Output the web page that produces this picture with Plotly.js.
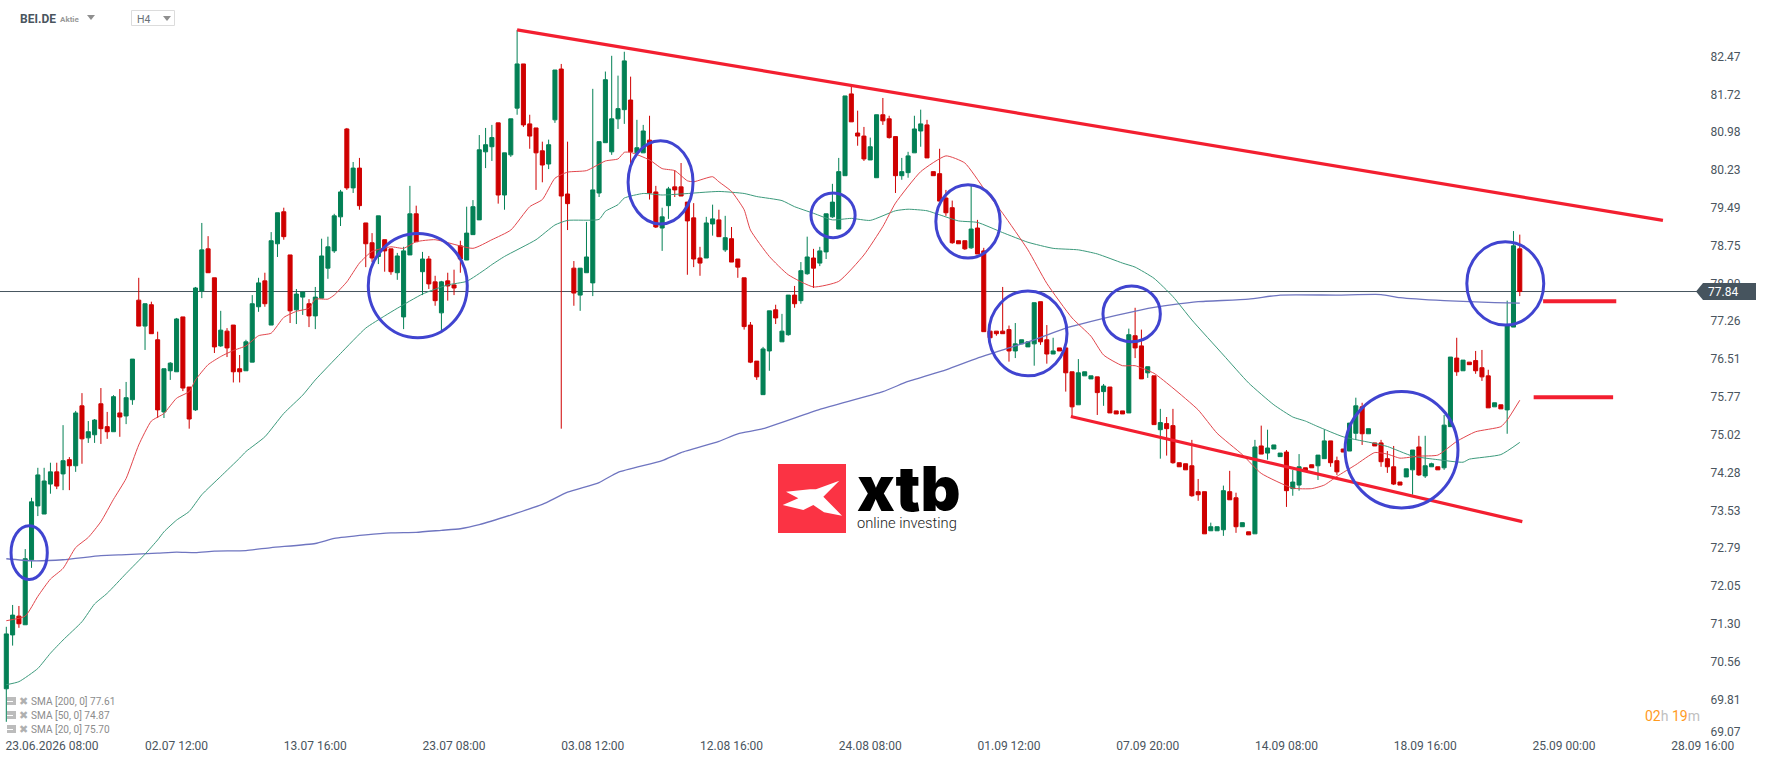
<!DOCTYPE html>
<html>
<head>
<meta charset="utf-8">
<script src="https://cdn.plot.ly/plotly-3.0.1.min.js"></script>
<style>
  html, body { margin: 0; padding: 0; background: #fff; overflow: hidden; }
</style>
</head>
<body>
<div id="chart" style="width:1768px;height:761px;"></div>
<script>
// H4 candles
var opens = [
  70.02,71.08,71.45,71.28,72.56,73.62,73.46,74.05,74.29,74.25,
  74.53,74.41,75.59,74.96,75.02,75.63,75.18,75.08,75.45,75.39,
  75.71,77.67,77.16,77.58,76.89,75.47,76.28,76.26,77.34,75.96,
  75.51,77.85,78.68,78.11,76.77,77.06,77.18,76.32,76.28,76.45,
  77.54,78.05,77.18,78.78,79.41,78.56,77.48,77.73,77.60,77.36,
  77.71,78.30,78.64,79.31,81.04,79.88,80.27,79.19,78.80,78.53,
  78.86,78.68,78.21,77.34,78.56,79.37,78.23,78.48,78.03,77.42,
  78.05,77.97,78.74,78.46,78.96,79.25,80.59,80.69,81.16,79.74,
  80.53,81.45,82.32,81.14,81.06,80.61,80.35,81.22,82.22,79.76,
  78.30,77.77,78.21,78.01,79.78,80.77,80.59,81.24,81.42,81.61,
  80.57,80.57,80.82,79.80,79.09,79.53,79.90,79.90,79.60,79.29,
  78.50,78.50,79.17,79.25,78.66,78.88,78.48,78.11,77.18,76.47,
  75.81,76.67,77.48,76.85,76.99,77.77,77.66,78.19,78.50,78.40,
  78.62,79.31,79.07,80.12,81.73,80.96,80.90,80.43,80.08,81.32,
  81.24,80.89,80.12,80.18,80.57,81.00,81.12,80.20,80.16,79.68,
  79.49,78.84,78.84,78.70,79.09,78.64,77.06,77.06,77.06,77.09,
  76.67,76.81,76.75,76.81,77.64,76.89,76.61,76.73,76.73,76.26,
  75.61,76.18,76.12,76.16,75.87,75.96,75.49,75.49,75.45,76.97,
  76.77,76.24,76.18,75.12,75.24,75.20,74.47,74.45,74.41,73.90,
  73.90,73.13,73.13,73.15,73.90,73.78,73.21,73.11,73.07,74.80,
  74.66,74.74,74.59,74.68,73.96,74.03,74.37,74.43,74.41,74.55,
  74.90,74.51,74.74,74.70,75.05,75.57,75.04,74.86,74.86,74.55,
  74.39,74.09,74.19,74.33,74.78,74.21,74.39,74.39,74.37,75.18,
  76.53,76.28,76.45,76.48,76.34,76.18,75.57,75.61,75.51,77.14,78.68
];
var highs = [
  71.24,71.67,71.65,72.77,73.78,74.37,74.37,74.47,74.47,75.21,
  74.58,75.49,75.84,75.29,75.33,75.94,75.47,75.80,75.92,76.06,
  76.51,78.11,77.60,77.64,77.05,76.32,76.45,77.32,77.34,75.96,
  77.93,79.19,78.93,78.11,77.46,77.12,77.18,76.59,76.89,77.77,
  78.11,78.21,79.01,79.39,79.49,78.56,77.89,77.83,77.69,77.93,
  78.88,78.92,79.37,79.84,81.06,80.39,80.47,79.19,78.99,79.33,
  78.86,78.68,78.60,78.72,79.92,79.53,78.62,78.54,78.15,78.05,
  78.21,78.27,78.84,79.51,79.64,80.92,81.06,81.12,81.16,80.57,
  81.24,82.99,82.32,81.32,81.06,80.79,80.83,82.20,82.32,80.79,
  78.44,78.30,79.21,81.83,80.79,82.17,82.48,82.09,82.56,82.07,
  81.22,81.12,81.30,79.92,79.49,79.90,80.23,80.37,79.60,79.58,
  78.72,79.31,79.55,79.45,79.33,79.11,78.48,78.11,77.24,76.47,
  76.75,77.46,77.58,77.40,77.77,77.95,78.42,78.92,78.68,78.72,
  79.37,79.96,80.47,81.69,81.89,81.40,81.08,80.87,81.32,81.65,
  81.30,80.89,80.47,80.59,81.30,81.42,81.22,80.20,80.65,79.84,
  79.63,78.84,78.84,79.94,79.25,78.70,77.06,77.06,77.93,77.17,
  77.22,76.89,76.85,77.62,77.64,77.18,76.93,76.73,76.73,76.26,
  76.51,76.26,76.18,76.16,76.02,75.96,75.49,75.49,77.11,77.52,
  77.09,76.36,76.18,75.53,75.37,75.53,74.47,74.45,74.92,74.15,
  73.90,73.29,73.21,74.02,74.31,73.88,73.29,73.11,74.92,75.20,
  75.12,74.82,74.66,74.72,74.33,74.64,74.37,74.43,74.62,75.12,
  74.90,74.59,74.74,75.25,75.75,75.65,75.14,74.86,74.92,74.70,
  74.80,74.09,74.35,74.72,75.00,75.00,74.47,74.39,75.41,76.55,
  76.93,76.49,76.45,76.67,76.69,76.30,75.65,75.61,77.66,79.03,78.96
];
var lows = [
  69.37,70.87,71.22,71.28,72.40,73.42,73.46,73.86,73.95,73.93,
  73.93,74.29,74.45,74.86,74.86,74.84,74.94,75.08,74.98,75.23,
  75.61,77.16,76.69,77.01,75.35,75.35,76.10,76.26,75.88,75.14,
  75.49,77.71,78.21,76.63,76.75,76.55,76.05,76.05,76.28,76.45,
  77.44,77.54,77.18,78.52,78.86,77.22,77.20,77.38,77.14,77.10,
  77.71,78.09,78.60,79.13,79.84,79.78,79.45,78.32,78.42,78.38,
  78.23,78.17,78.07,77.10,78.56,78.82,77.77,77.89,77.56,77.08,
  77.66,77.77,78.21,78.46,78.96,79.25,80.27,80.41,79.57,79.45,
  80.49,81.32,81.08,80.65,79.84,79.99,80.25,81.16,75.14,79.05,
  77.56,77.46,78.21,77.75,79.70,80.77,80.53,81.04,81.14,80.33,
  80.57,80.57,79.65,79.09,78.64,79.27,79.70,79.72,78.17,78.32,
  78.15,78.50,78.94,78.92,78.62,78.42,78.11,77.09,76.43,76.10,
  75.81,76.28,77.20,76.85,76.97,77.52,77.60,78.17,77.91,78.34,
  78.48,79.29,79.07,80.12,81.18,80.71,80.41,80.43,80.08,81.12,
  80.85,79.78,80.04,80.08,80.57,80.69,80.47,80.12,79.62,79.33,
  78.78,78.78,78.66,78.68,78.58,77.05,76.93,76.97,77.01,76.46,
  76.53,76.81,76.75,76.38,76.79,76.42,76.61,76.67,75.87,75.39,
  75.61,76.18,76.12,75.41,75.59,75.45,75.43,75.43,75.45,76.53,
  76.12,76.14,75.22,74.55,74.61,74.45,74.39,74.33,73.80,73.72,
  73.07,73.13,73.13,73.03,73.74,73.09,73.21,73.05,73.07,74.64,
  74.53,74.74,74.59,73.60,73.82,73.92,74.31,74.37,74.13,74.55,
  74.39,74.23,74.68,74.70,74.92,74.82,75.04,74.80,74.39,74.27,
  74.03,74.03,74.19,73.84,74.21,74.17,74.39,74.33,74.33,75.18,
  76.18,76.28,76.40,76.22,76.08,75.55,75.57,75.53,75.04,77.14,77.75
];
var closes = [
  71.10,71.47,71.30,72.58,73.70,74.23,74.11,74.29,74.01,74.51,
  74.41,75.45,74.94,75.08,75.31,75.14,75.08,75.77,75.37,75.75,
  76.51,77.16,77.60,77.01,75.51,76.32,76.43,77.30,75.94,75.33,
  77.91,78.66,78.21,76.75,77.08,76.73,76.26,76.26,76.85,77.60,
  78.01,77.60,78.84,79.39,78.92,77.46,77.79,77.83,77.36,77.73,
  78.54,78.72,79.33,79.80,79.88,80.27,79.53,78.78,78.50,79.33,
  78.64,78.23,78.54,78.64,79.37,78.82,78.48,77.99,77.66,78.03,
  77.95,77.91,78.48,78.99,79.51,80.63,80.73,80.87,79.74,80.57,
  81.24,82.32,81.12,80.90,80.57,80.33,80.73,82.20,79.72,79.57,
  77.81,78.30,78.52,79.84,80.79,82.01,81.24,81.44,82.38,80.59,
  80.67,81.00,79.78,79.11,79.31,79.86,79.84,79.72,79.23,78.48,
  78.40,79.19,79.27,78.92,78.90,78.42,78.32,77.15,76.45,76.16,
  76.71,77.46,77.32,77.06,77.77,77.60,78.25,78.52,78.30,78.64,
  79.37,79.60,80.20,81.69,81.18,80.90,80.45,80.69,81.32,81.20,
  80.87,80.12,80.20,80.51,81.04,81.14,80.47,80.12,79.62,79.39,
  78.80,78.78,78.68,79.07,78.58,77.05,76.93,77.01,77.01,76.67,
  76.81,76.89,76.85,77.62,76.85,76.61,76.67,76.67,76.24,75.57,
  76.24,76.26,76.18,75.85,75.98,75.45,75.43,75.43,76.99,76.73,
  76.12,76.36,75.22,75.26,75.14,74.47,74.39,74.33,73.82,73.84,
  73.07,73.21,73.21,73.92,73.74,73.21,73.29,73.05,74.78,74.64,
  74.76,74.82,74.66,73.92,74.09,74.39,74.31,74.37,74.62,74.90,
  74.47,74.29,74.68,75.25,75.59,75.04,75.14,74.80,74.49,74.39,
  74.05,74.03,74.35,74.72,74.23,74.41,74.45,74.33,75.21,76.55,
  76.26,76.49,76.40,76.28,76.16,75.55,75.65,75.53,77.16,78.74,77.84
];

// moving averages, sampled along the curves (candle number, price)
var sma20X = [0,3,5,7,9,11,13,15,17,19,21,23,25,27,29,30,32,34,36,38,40,42,44,46,48,49,51,52,54,56,58,61,63,65,68,
  74,77,80,83,85,87,89,92,95,97,98,99,102,104,106,108,109,112,113,115,117,118,121,124,128,132,136,139,141,145,149,
  152,155,158,162,165,169,172,174,177,179,182,185,189,192,196,199,204,207,209,211,214,217,219,221,224,227,230,233,237,238,240];
var sma20Y = [71.36,71.45,71.84,72.18,72.39,72.80,73.00,73.31,73.75,74.16,74.82,75.29,75.44,75.74,75.87,76.10,76.40,76.56,76.68,76.77,76.97,77.02,77.33,77.45,77.51,77.69,77.69,77.77,78.03,78.40,78.63,78.72,78.69,78.82,78.86,
  78.69,78.86,79.05,79.51,79.65,80.07,80.19,80.22,80.41,80.45,80.58,80.58,80.43,80.26,80.22,80.02,80.00,80.10,80.00,79.81,79.45,79.05,78.53,78.17,77.93,78.04,78.56,79.12,79.58,80.20,80.51,
  80.37,79.87,79.38,78.66,78.00,77.32,76.96,76.59,76.38,76.38,76.23,75.94,75.51,75.05,74.63,74.26,73.97,73.96,74.03,74.20,74.43,74.67,74.64,74.56,74.60,74.62,74.89,75.08,75.18,75.31,75.70];

var sma50X = [0,2,5,7,9,12,14,16,19,22,24,25,27,29,31,34,37,38,41,44,47,49,53,57,60,62,66,70,73,76,77,79,84,87,89,94,95,97,98,101,104,107,113,117,119,123,125,128,131,134,137,
  141,143,146,148,151,154,158,162,166,170,173,177,179,182,185,188,193,197,201,204,206,208,212,217,219,223,227,231,232,237,240];
var sma50Y = [70.10,70.16,70.42,70.72,70.98,71.34,71.69,71.90,72.29,72.67,72.95,73.11,73.34,73.51,73.84,74.20,74.56,74.69,74.98,75.44,75.80,76.10,76.62,77.12,77.36,77.51,77.79,77.97,78.04,78.28,78.37,78.53,78.86,79.15,79.24,79.26,79.42,79.55,79.68,79.77,79.74,79.76,79.81,79.77,79.71,79.63,79.51,79.38,79.25,79.28,79.24,
  79.43,79.46,79.43,79.35,79.23,79.20,79.00,78.81,78.69,78.66,78.58,78.40,78.32,78.10,77.74,77.28,76.59,76.04,75.61,75.37,75.29,75.18,74.98,74.85,74.79,74.60,74.53,74.48,74.54,74.63,74.87];

var sma200X = [0,4,9,15,19,24,27,30,33,38,42,49,52,57,61,65,69,72,75,80,85,89,94,97,104,107,113,116,120,129,139,143,149,154,159,163,168,176,180,185,189,197,202,211,218,221,228,232,236,240];
var sma200Y = [72.58,72.54,72.56,72.64,72.66,72.69,72.71,72.70,72.73,72.74,72.80,72.88,72.98,73.05,73.09,73.10,73.14,73.17,73.25,73.44,73.65,73.89,74.08,74.28,74.51,74.67,74.89,75.04,75.14,75.52,75.87,76.07,76.30,76.53,76.73,76.89,77.12,77.37,77.48,77.58,77.64,77.69,77.77,77.77,77.78,77.72,77.66,77.64,77.62,77.61];

// drawn trend lines and levels
var upperTrendX = [81, 262.7],  upperTrendY = [82.99, 79.24];
var lowerTrendX = [168.8, 240.4], lowerTrendY = [75.38, 73.31];
var levelHighX = [243.7, 255.3], levelHighY = [77.65, 77.65];
var levelLowX = [242.2, 254.8], levelLowY = [75.76, 75.76];

// hand drawn ellipses: left, right, top, bottom
var ringLeft = [0.75,57.4,98.6,127.6,147.4,155.8,173.9,212.3,231.6];
var ringRight = [6.5,73.1,108.9,134.6,157.6,168.2,183,230.2,243.8];
var ringTop = [73.23,78.98,80.81,79.78,79.94,77.85,77.95,75.87,78.82];
var ringBottom = [72.17,76.93,79.17,78.90,78.50,76.18,76.85,73.58,77.18];

var priceTicks = [82.47,81.72,80.98,80.23,79.49,78.75,78.00,77.26,76.51,75.77,75.02,74.28,73.53,72.79,72.05,71.30,70.56,69.81,69.18];
var priceLabels = ['82.47','81.72','80.98','80.23','79.49','78.75','78.00','77.26','76.51','75.77','75.02','74.28','73.53','72.79','72.05','71.30','70.56','69.81','69.07'];
var timeTicks = [7.25,27,49,71,93,115,137,159,181,203,225,247,269];
var timeLabels = ['23.06.2026 08:00','02.07 12:00','13.07 16:00','23.07 08:00','03.08 12:00','12.08 16:00','24.08 08:00','01.09 12:00','07.09 20:00','14.09 08:00','18.09 16:00','25.09 00:00','28.09 16:00'];
var lastPrice = 77.84;
var smaLabels = ['SMA [200, 0] 77.61','SMA [50, 0] 74.87','SMA [20, 0] 75.70'];

var plotW = 1705, plotH = 733;
var font = 'Roboto, sans-serif';
var textColor = '#4a555e';

// pixel position in the page -> paper fraction, for the chrome around the chart
function px(x) { return x / plotW; }
function py(y) { return 1 - y / plotH; }
function paperPath(points, fill) {
  var d = points.map(function(p, k) {
    return (k ? 'L' : 'M') + px(p[0]) + ',' + py(p[1]);
  }).join(' ') + ' Z';
  return {type: 'path', xref: 'paper', yref: 'paper', path: d, fillcolor: fill, line: {width: 0}, layer: 'above'};
}
function paperRect(x0, y0, x1, y1, fill, lineColor) {
  return {type: 'rect', xref: 'paper', yref: 'paper', x0: px(x0), x1: px(x1), y0: py(y0), y1: py(y1),
    fillcolor: fill, line: {color: lineColor || fill, width: lineColor ? 1 : 0}, layer: 'above'};
}
function label(text, x, y, size, color, extra) {
  var a = {text: text, xref: 'paper', yref: 'paper', x: px(x), y: py(y), xanchor: 'left', yanchor: 'middle',
    xshift: -2.5, showarrow: false, font: {family: font, size: size, color: color}};
  for (var k in extra) a[k] = extra[k];
  return a;
}

function line(x, y, color, width) {
  return {x: x, y: y, type: 'scatter', mode: 'lines', hoverinfo: 'skip',
    line: {color: color, width: width, shape: 'spline', smoothing: 0.5}};
}
function segment(x, y, width) {
  return {x: x, y: y, type: 'scatter', mode: 'lines', hoverinfo: 'skip', cliponaxis: false,
    line: {color: '#f31f30', width: width}};
}

var data = [
  {
    x: opens.map(function(v, i) { return i; }),
    open: opens, high: highs, low: lows, close: closes,
    type: 'candlestick',
    increasing: {line: {color: '#038055', width: 1}, fillcolor: '#038055'},
    decreasing: {line: {color: '#cf0000', width: 1}, fillcolor: '#cf0000'}
  },
  line(sma200X, sma200Y, '#6f75c0', 1.3),
  line(sma50X, sma50Y, '#3c9a7c', 1),
  line(sma20X, sma20Y, '#e2464c', 1),
  segment(upperTrendX, upperTrendY, 3.2),
  segment(lowerTrendX, lowerTrendY, 3.2),
  segment(levelHighX, levelHighY, 4),
  segment(levelLowX, levelLowY, 4)
];

var shapes = [];
// last price line and its tag
shapes.push({type: 'line', xref: 'paper', yref: 'y', x0: 0, x1: px(1697), y0: lastPrice, y1: lastPrice,
  line: {color: '#46545e', width: 1}, layer: 'below'});
shapes.push(paperPath([[1696, 291.5], [1703, 283], [1756, 283], [1756, 300], [1703, 300]], '#46545e'));
// circles
ringLeft.forEach(function(v, k) {
  shapes.push({type: 'circle', xref: 'x', yref: 'y', x0: v, x1: ringRight[k], y0: ringBottom[k], y1: ringTop[k],
    line: {color: '#4044d0', width: 3}, layer: 'above'});
});
// logo
shapes.push(paperRect(778, 464, 846, 533, '#fb3344'));
var logoX = [[78,125],[150,118],[168,118],[238,92],[190,140],[246,197],[192,187],[160,165],[130,180],[68,165],[115,145]];
shapes.push(paperPath(logoX.map(function(p) { return [760 + p[0] / 3, 450 + p[1] / 3]; }), '#ffffff'));
// instrument selector
shapes.push(paperPath([[87, 15], [95, 15], [91, 20]], '#8f8f8f'));
shapes.push(paperRect(131.5, 10.5, 174.5, 25.5, '#ffffff', '#dcdcdc'));
shapes.push(paperPath([[163, 16], [171, 16], [167, 21]], '#8f8f8f'));
// indicator icons
[701, 715, 729].forEach(function(y) {
  shapes.push(paperRect(7, y - 4, 16, y + 4, '#bcbcbc'));
  shapes.push(paperRect(7, y, 13, y + 1, '#ffffff'));
});

var annotations = [
  label('<b>BEI.DE</b>', 20, 18.5, 12, textColor),
  label('<b>Aktie</b>', 60, 19.5, 8, '#999999'),
  label('H4', 137, 19.5, 10.5, '#6a7278'),
  label('xtb', 857, 488, 62, '#000000', {font: {family: 'Inter, sans-serif', size: 62, color: '#000', weight: 900}}),
  label('online investing', 858, 523, 14.7, '#222222', {font: {family: font, size: 14.7, color: '#222222', weight: 300}}),
  label(String(lastPrice), 1708, 292, 12, '#ffffff'),
  label('<span style="color:#ff9a1e">02</span><span style="color:#c0c0c0">h</span> <span style="color:#ff9a1e">19</span><span style="color:#c0c0c0">m</span>', 1645, 716, 14, '#c0c0c0')
];
smaLabels.forEach(function(t, k) {
  annotations.push(label(t, 31, 701.5 + 14 * k, 10.1, '#8c8c8c'));
  annotations.push(label('\u2716', 19, 701 + 14 * k, 11, '#b0b0b0'));
});

var layout = {
  width: 1768, height: 761,
  showlegend: false,
  paper_bgcolor: '#fff', plot_bgcolor: '#fff',
  margin: {l: 0, r: 1768 - plotW, t: 0, b: 761 - plotH, pad: 0},
  boxgap: 0.36,
  boxgroupgap: 0,
  font: {family: font, size: 12, color: textColor},
  xaxis: {
    type: 'linear', range: [-1, 269.37], rangeslider: {visible: false},
    showgrid: false, zeroline: false, showline: false,
    ticks: 'outside', ticklen: 2, tickcolor: 'rgba(0,0,0,0)',
    tickmode: 'array', tickvals: timeTicks, ticktext: timeLabels,
    tickfont: {family: font, size: 12, color: textColor}
  },
  yaxis: {
    side: 'right', range: [69.1496, 83.5786],
    showgrid: false, zeroline: false, showline: false,
    ticks: 'outside', ticklen: 2, tickcolor: 'rgba(0,0,0,0)',
    tickmode: 'array', tickvals: priceTicks, ticktext: priceLabels,
    tickfont: {family: font, size: 12, color: textColor}
  },
  shapes: shapes,
  annotations: annotations
};

Plotly.newPlot('chart', data, layout, {displayModeBar: false, responsive: false});
</script>
</body>
</html>
